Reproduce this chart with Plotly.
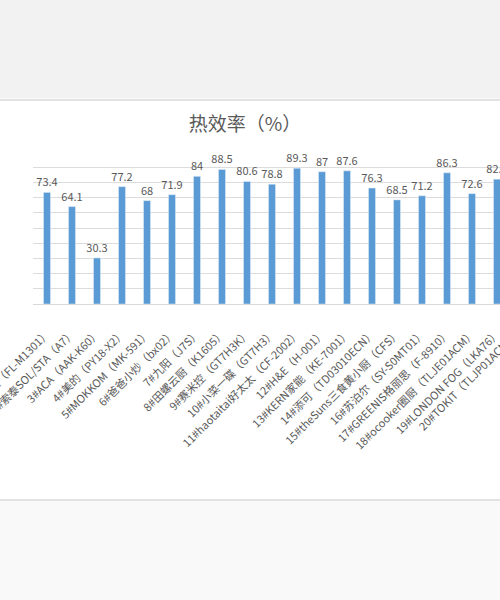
import plotly.graph_objects as go

# Heat efficiency by cooking machine model (chart is cropped at both sides)
models = [
    '1#东菱（FL-M1301）', '2#索泰SOL/STA（A7）', '3#ACA（AAK-K60）', '4#美的（PY18-X2）',
    '5#MOKKOM（MK-591）', '6#爸爸小炒（bx02）', '7#九阳（J7S）', '8#田螺云厨（K1605）',
    '9#赛米控（GT7H3K）', '10#小菜一碟（GT7H3）', '11#haotaitai好太太（CF-2002）',
    '12#H&E（H-001）', '13#KERN家能（KE-7001）', '14#添可（TD03010ECN）',
    '15#theSuns三食黄小厨（CFS）', '16#苏泊尔（SY-S0MT01）', '17#GREENIS格丽思（F-8910）',
    '18#ocooker圈厨（TLJE01ACM）', '19#LONDON FOG（LKA76）', '20#TOKIT（TLJP01ACM）',
]
efficiency = [73.4, 64.1, 30.3, 77.2, 68, 71.9, 84, 88.5, 80.6, 78.8,
              89.3, 87, 87.6, 76.3, 68.5, 71.2, 86.3, 72.6, 82.1, None]

FONT = 'Noto Sans CJK SC, Microsoft YaHei, sans-serif'
GREY = '#595959'
W, H = 500, 600
L, T, B = 33, 152, 296
x_range = [-0.56, 18.12]
plot_h = H - T - B


def py(px):
    # pixel row -> paper y
    return (H - B - px) / plot_h


def px_x(px):
    return (px - L) / (W - L)


fig = go.Figure()
fig.add_trace(go.Bar(x=list(range(len(models))), y=efficiency, marker_color='#5b9bd5',
                     text=['' if v is None else f'{v:g}' for v in efficiency],
                     textposition='outside', cliponaxis=False, constraintext='none',
                     textfont=dict(size=11, color=GREY, family=FONT), hoverinfo='skip'))

fig.update_layout(
    width=W, height=H, margin=dict(l=L, r=0, t=T, b=B, autoexpand=False),
    paper_bgcolor='#f9f9f9', plot_bgcolor='white', bargap=0.72, showlegend=False,
    title=dict(text='热效率（%）', x=0.49, xref='container', y=1 - 124 / H, yanchor='middle',
               xanchor='center', font=dict(size=19, color=GREY, family=FONT)),
    font=dict(family=FONT, color=GREY),
)
fig.update_xaxes(range=x_range, tickmode='array', tickvals=list(range(len(models))), ticktext=models,
                 tickangle=-45, tickfont=dict(size=11, color=GREY, family=FONT), automargin=False,
                 ticklabeloverflow='allow', ticklabelstandoff=18, showgrid=False, showline=True,
                 linecolor='#d9d9d9', zeroline=False)
fig.update_yaxes(range=[0, 100], dtick=10, showgrid=True, gridcolor='#dcdcdc', showticklabels=False,
                 zeroline=False, showline=False, automargin=False)

# white chart panel between the grey bands
fig.add_shape(type='rect', xref='paper', yref='paper', x0=px_x(-5), x1=px_x(505), y0=py(100), y1=py(500),
              fillcolor='white', line=dict(color='#dadada', width=1.5), layer='below')
fig.add_shape(type='rect', xref='paper', yref='paper', x0=px_x(-5), x1=px_x(505), y0=py(0), y1=py(98),
              fillcolor='#f2f2f2', line_width=0, layer='below')

# label of the 20th model sits beyond the cropped right edge
pos20 = (19 - x_range[0]) / (x_range[1] - x_range[0])
fig.add_annotation(text=models[19], xref='paper', yref='paper', x=pos20, y=py(326),
                   xanchor='right', yanchor='top', textangle=-45, showarrow=False,
                   font=dict(size=11, color=GREY, family=FONT))

# page margin would shift the figure inside the 500x600 window
fig.write_html('out.html', config={'displayModeBar': False},
               post_script="document.body.style.margin='0';")
